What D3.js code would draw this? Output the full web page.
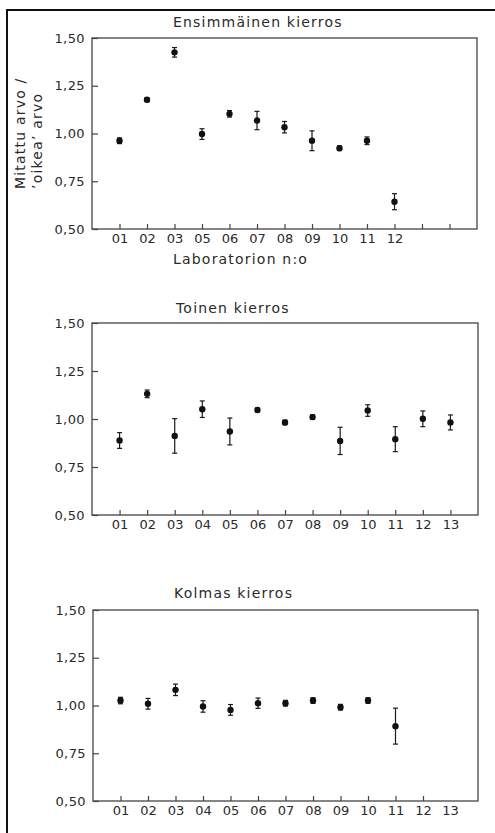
<!DOCTYPE html>
<html>
<head>
<meta charset="utf-8">
<script src="https://cdn.jsdelivr.net/npm/d3@7"></script>
<style>
  body { margin: 0; background: #fff; }
  svg text { font-family: "DejaVu Sans", sans-serif; fill: #2a2a2a; }
</style>
</head>
<body>
<svg id="chart" width="495" height="833"></svg>
<script>
const yTicks = [0.50, 0.75, 1.00, 1.25, 1.50];

const round1Title = "Ensimmäinen kierros";
const round1Labels = ["01", "02", "03", "05", "06", "07", "08", "09", "10", "11", "12"];
const round1Values = [0.962, 1.177, 1.425, 0.997, 1.103, 1.068, 1.033, 0.962, 0.923, 0.962, 0.643];
const round1Errors = [0.015, 0.010, 0.025, 0.028, 0.017, 0.048, 0.030, 0.052, 0.012, 0.020, 0.042];

const round2Title = "Toinen kierros";
const round2Labels = ["01", "02", "03", "04", "05", "06", "07", "08", "09", "10", "11", "12", "13"];
const round2Values = [0.888, 1.131, 0.912, 1.051, 0.935, 1.047, 0.982, 1.010, 0.886, 1.044, 0.895, 1.001, 0.982];
const round2Errors = [0.041, 0.020, 0.090, 0.043, 0.070, 0.010, 0.012, 0.012, 0.071, 0.030, 0.065, 0.041, 0.039];

const round3Title = "Kolmas kierros";
const round3Labels = ["01", "02", "03", "04", "05", "06", "07", "08", "09", "10", "11", "12", "13"];
const round3Values = [1.026, 1.009, 1.082, 0.995, 0.977, 1.012, 1.012, 1.026, 0.991, 1.026, 0.892];
const round3Errors = [0.017, 0.028, 0.030, 0.030, 0.028, 0.027, 0.015, 0.015, 0.015, 0.015, 0.094];

const slotCount = 13;

const svg = d3.select("#chart");

// outer frame of the figure (runs off the right and bottom edge)
svg.append("rect")
    .attr("x", 7)
    .attr("y", 10)
    .attr("width", 520)
    .attr("height", 860)
    .attr("fill", "none")
    .attr("stroke", "#111")
    .attr("stroke-width", 2);

const panels = [
    { title: round1Title, labels: round1Labels, values: round1Values, errors: round1Errors,
      tickSlots: d3.range(13), top: 38, bottom: 229, left: 92, right: 477, titleX: 173, titleY: 27 },
    { title: round2Title, labels: round2Labels, values: round2Values, errors: round2Errors,
      tickSlots: d3.range(13), top: 323, bottom: 515, left: 92, right: 478, titleX: 176, titleY: 313 },
    { title: round3Title, labels: round3Labels, values: round3Values, errors: round3Errors,
      tickSlots: d3.range(12), top: 610, bottom: 801, left: 93, right: 478, titleX: 174, titleY: 598 }
];

panels.forEach((p, pi) => {
    const g = svg.append("g").attr("class", `panel-${pi}`);

    const x = d3.scalePoint()
        .domain(d3.range(slotCount))
        .range([p.left, p.right])
        .padding(1);

    const y = d3.scaleLinear()
        .domain([0.5, 1.5])
        .range([p.bottom, p.top]);

    // y axis, ticks pointing inward
    const yAxis = g.append("g")
        .attr("transform", `translate(${p.left},0)`)
        .call(d3.axisLeft(y)
            .tickValues(yTicks)
            .tickFormat(d => d3.format(".2f")(d).replace(".", ","))
            .tickSizeInner(-6)
            .tickSizeOuter(0)
            .tickPadding(7));
    yAxis.select(".domain").remove();
    yAxis.selectAll("line").attr("stroke", "#444").attr("stroke-width", 1.2);
    yAxis.selectAll("text")
        .style("font-size", "13px")
        .style("letter-spacing", "0.4px")
        .attr("fill", "#2a2a2a");

    // x axis
    const xAxis = g.append("g")
        .attr("transform", `translate(0,${p.bottom})`)
        .call(d3.axisBottom(x)
            .tickValues(p.tickSlots)
            .tickFormat(i => p.labels[i] || "")
            .tickSizeInner(-5)
            .tickSizeOuter(0)
            .tickPadding(5));
    xAxis.select(".domain").remove();
    xAxis.selectAll("line").attr("stroke", "#444").attr("stroke-width", 1.2);
    xAxis.selectAll("text")
        .style("font-size", "13px")
        .attr("fill", "#2a2a2a");

    // labels for slot 13 in round 3 (no tick drawn there)
    if (p.labels.length > p.tickSlots.length) {
        g.selectAll("text.extra")
            .data(d3.range(p.tickSlots.length, p.labels.length))
            .join("text")
            .attr("class", "extra")
            .attr("x", i => x(i))
            .attr("y", p.bottom + 5)
            .attr("dy", "0.71em")
            .attr("text-anchor", "middle")
            .style("font-size", "13px")
            .text(i => p.labels[i]);
    }

    // plot box
    g.append("rect")
        .attr("x", p.left)
        .attr("y", p.top)
        .attr("width", p.right - p.left)
        .attr("height", p.bottom - p.top)
        .attr("fill", "none")
        .attr("stroke", "#444")
        .attr("stroke-width", 1.3);

    // title
    g.append("text")
        .attr("x", p.titleX)
        .attr("y", p.titleY)
        .style("font-size", "14px")
        .style("letter-spacing", "1.2px")
        .text(p.title);

    const pts = p.values.map((v, i) => ({ i, v, e: p.errors[i] }));

    // error bars
    const bars = g.selectAll("g.err")
        .data(pts)
        .join("g")
        .attr("class", "err")
        .attr("stroke", "#1a1a1a")
        .attr("stroke-width", 1.2);

    bars.append("line")
        .attr("x1", d => x(d.i)).attr("x2", d => x(d.i))
        .attr("y1", d => y(d.v - d.e)).attr("y2", d => y(d.v + d.e));
    bars.append("line")
        .attr("x1", d => x(d.i) - 2.5).attr("x2", d => x(d.i) + 2.5)
        .attr("y1", d => y(d.v + d.e)).attr("y2", d => y(d.v + d.e));
    bars.append("line")
        .attr("x1", d => x(d.i) - 2.5).attr("x2", d => x(d.i) + 2.5)
        .attr("y1", d => y(d.v - d.e)).attr("y2", d => y(d.v - d.e));

    g.selectAll("circle.pt")
        .data(pts)
        .join("circle")
        .attr("class", "pt")
        .attr("cx", d => x(d.i))
        .attr("cy", d => y(d.v))
        .attr("r", 3.2)
        .attr("fill", "#111");

    if (pi === 0) {
        // x axis title
        g.append("text")
            .attr("x", 173)
            .attr("y", 264)
            .style("font-size", "14px")
            .style("letter-spacing", "1.2px")
            .text("Laboratorion n:o");

        // y axis title, two lines
        const yTitle = ["Mitattu arvo /", "\u2019oikea\u2019 arvo"];
        g.selectAll("text.ytitle")
            .data(yTitle)
            .join("text")
            .attr("class", "ytitle")
            .attr("transform", (d, k) => `translate(${k === 0 ? 25 : 42},189) rotate(-90)`)
            .style("font-size", "14px")
            .style("letter-spacing", "1.2px")
            .text(d => d);
    }
});
</script>
</body>
</html>
